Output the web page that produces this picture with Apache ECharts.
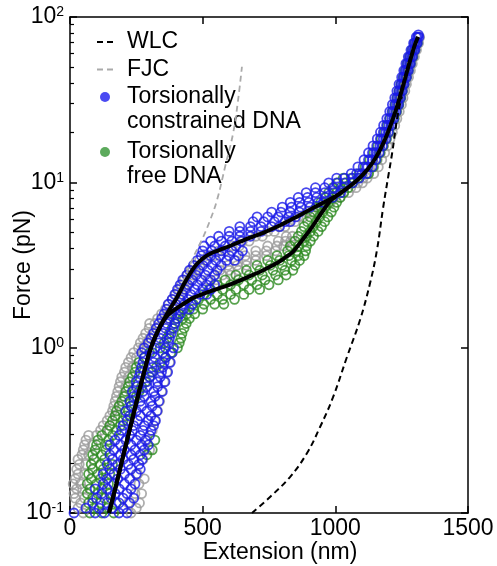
<!DOCTYPE html>
<html>
<head>
<meta charset="utf-8">
<script src="https://cdn.jsdelivr.net/npm/echarts@6/dist/echarts.min.js"></script>
<style>
html,body{margin:0;padding:0;background:#fff;}
#chart{width:497px;height:566px;}
</style>
</head>
<body>
<div id="chart"></div>
<script>
// ---------- data (extension nm, force pN) ----------
var xTicks = [0, 500, 1000, 1500];
var yTickExponents = [-1, 0, 1, 2];
var yMinorTicks = [0.2,0.3,0.4,0.5,0.6,0.7,0.8,0.9,2,3,4,5,6,7,8,9,20,30,40,50,60,70,80,90];
var legendLabels = ['WLC', 'FJC', 'Torsionally\nconstrained DNA', 'Torsionally\nfree DNA'];

var fitConstrained = [[147,0.1],[175,0.15],[200,0.22],[225,0.32],[252,0.48],[280,0.72],[305,1.0],[330,1.25],[351,1.45],[375,1.7],[402,2.0],[428,2.4],[452,2.8],[472,3.12],[490,3.35],[510,3.55],[528,3.7],[560,3.88],[603,4.12],[641,4.38],[690,4.7],[728,4.95],[792,5.5],[855,6.2],[916,7.0],[960,7.6],[1000,8.2],[1040,9.1],[1082,10.3],[1120,11.9],[1150,13.9],[1175,16.5],[1195,19.5],[1214,23.5],[1232,28.5],[1248,35],[1262,42],[1275,50],[1288,59],[1300,68],[1312,76]];

var fitFree = [[147,0.1],[175,0.15],[200,0.22],[225,0.32],[252,0.48],[280,0.72],[305,1.0],[330,1.25],[351,1.45],[370,1.58],[388,1.67],[430,1.85],[464,2.0],[530,2.2],[600,2.4],[652,2.6],[720,2.9],[780,3.25],[810,3.5],[840,3.8],[867,4.3],[890,4.8],[910,5.3],[935,6.1],[958,6.9],[980,7.7],[1000,8.2]];

var wlcCurve = [[686,0.1],[754,0.125],[829,0.165],[893,0.23],[942,0.33],[991,0.5],[1044,0.88],[1093,1.47],[1131,2.46],[1157,3.9],[1180,7.0],[1200,11],[1214,15],[1236,26],[1251,33]];

var fjcCurve = [[360,1.5],[410,2.2],[464,3.5],[500,4.6],[528,5.9],[554,7.8],[585,12.5],[615,19.9],[633,31],[648,50]];

// scatter rows: [force, [extensions...]]
var grayRows = [
[0.100,[50,230]],[0.107,[30,250]],[0.115,[40,220,262]],[0.123,[20,55]],[0.131,[15,245,270]],
[0.140,[25,48]],[0.150,[12,40,260]],[0.161,[20,280]],[0.172,[30,55,255]],[0.184,[25]],
[0.197,[35,60]],[0.211,[30,275]],[0.225,[45,70]],[0.241,[50,300]],[0.258,[55,85]],
[0.276,[60,290]],[0.295,[70,100]],[0.316,[115,310]],[0.338,[125,150]],[0.362,[140,320]],
[0.387,[150,170]],[0.414,[160,330]],[0.443,[165,185]],[0.474,[170,338]],[0.507,[175,200]],
[0.543,[180,345]],[0.581,[185,210]],[0.622,[190,355]],[0.665,[195,220]],[0.712,[205,365]],
[0.761,[210,235]],[0.815,[220,375]],[0.872,[230,250]],[0.933,[240,385]],[0.998,[258,275]],
[1.07,[265,290]],[1.14,[275,300]],[1.22,[285,312]],[1.31,[298,325]],[1.40,[300,320]],
[1.50,[330,365]],[1.60,[345,375]],[1.71,[360,388]],[1.83,[372,398]],[1.96,[385,410]],
[2.10,[398,420]],[2.25,[410,430]],[2.40,[420,440]],[2.57,[430,452,520,550]],[2.75,[442,462,545,575,605]],
[2.94,[455,475,565,600,635]],[3.15,[468,490,595,630,665]],[3.37,[488,510,625,665,700]],[3.60,[520,545,660,700,740]],
[3.85,[560,585,700,740,775]],[4.12,[612,638,745,780,805]],[4.41,[650,675,785,812,832]],[4.72,[700,725,815,838]],
[5.05,[745,770]],[5.40,[788,810]],[5.78,[825,848]],[6.18,[860,880]],[6.61,[893,912]],
[7.08,[928,948]],[7.57,[963,982]],[8.10,[1000,1018]],[8.67,[1030,1050]],[9.28,[1058,1078]],
[9.93,[1085,1102]],[10.6,[1105,1120]],[11.3,[1125,1145]],[12.4,[1145,1162]],[13.7,[1158,1175]],
[15.1,[1170,1186]],[16.6,[1182,1196]],[18.3,[1193,1206]],[20.1,[1203,1215]],[22.1,[1213,1224]],
[24.3,[1222,1232]],[26.8,[1232,1241]],[29.5,[1240,1249]],[32.4,[1247,1255]],[35.7,[1254,1262]],
[39.2,[1261,1268]],[43.2,[1269,1276]],[47.5,[1276,1283]],[52.2,[1283,1290]],[57.5,[1292,1298]],
[63.2,[1300,1306]],[69.5,[1308,1314]],[75.5,[1318]]
];

var greenRows = [
[0.100,[75,120,165]],[0.107,[90,140]],[0.115,[70,115,175]],[0.123,[85,130]],[0.131,[65,105,150]],
[0.140,[75,120]],[0.150,[65,100,145]],[0.161,[80,115]],[0.172,[70,105,150]],[0.184,[85,125]],
[0.197,[80,115,160]],[0.211,[90,130]],[0.225,[85,120,290]],[0.241,[95,135,310]],[0.258,[100,140]],
[0.276,[105,145,320]],[0.295,[120,160]],[0.316,[140,175]],[0.338,[150,190]],[0.362,[160,200]],
[0.387,[170,210]],[0.414,[175,220]],[0.443,[185,230]],[0.474,[195,240]],[0.507,[205,250]],
[0.543,[210,260]],[0.581,[220,270]],[0.622,[225,285]],[0.665,[235,300]],[0.712,[245,310]],
[0.761,[250,325]],[0.815,[260,340]],[0.872,[280,360]],[0.933,[300,380]],[0.998,[340,405]],
[1.07,[355,412]],[1.14,[365,418]],[1.22,[375,422]],[1.31,[385,430]],[1.40,[395,438]],
[1.50,[400,425,450]],[1.60,[410,440,470]],[1.71,[430,465,500]],[1.83,[465,505,545,580]],
[1.96,[485,530,575,620]],[2.10,[505,555,605,655]],[2.25,[525,575,625,675,715]],
[2.40,[555,605,655,705,750]],[2.57,[585,635,685,735,785]],[2.75,[625,675,725,775,815]],
[2.94,[665,715,765,810,840]],[3.15,[705,755,800,848]],[3.37,[745,790,835,865]],
[3.60,[780,825,860,882]],[3.85,[820,855,888]],[4.12,[830,862,892]],[4.41,[848,882,906]],
[4.72,[860,892,918]],[5.05,[872,906,935]],[5.40,[882,916,948]],[5.78,[895,928,960]],
[6.18,[905,940,972]],[6.61,[918,952,985]],[7.08,[930,962,995]],[7.57,[945,975,1005]],
[8.10,[960,990,1018]],[8.67,[975,1005,1032]],[9.28,[990,1020,1048]],[9.93,[1010,1040,1065]],
[10.6,[1030,1060,1085]],[11.3,[1090,1125]],[12.4,[1112,1142]],[13.7,[1130,1155]],
[15.1,[1145,1168]],[16.6,[1160,1180]],[18.3,[1173,1192]],[20.1,[1185,1202]],[22.1,[1196,1212]],
[24.3,[1206,1222]],[26.8,[1216,1230]],[29.5,[1226,1239]],[32.4,[1233,1246]],[35.7,[1240,1252]],
[39.2,[1247,1259]],[43.2,[1256,1268]],[47.5,[1263,1275]],[52.2,[1271,1283]],[57.5,[1280,1292]],
[63.2,[1289,1300]],[69.5,[1299,1309]]
];

var blueRows = [
[0.100,[15,95,130,185,215]],[0.107,[60,110,160,200]],[0.115,[85,140,185,225]],[0.123,[100,155,200,240]],
[0.131,[120,170,215]],[0.140,[95,140,185,230]],[0.150,[125,165,205,245]],[0.161,[140,180,225]],
[0.172,[125,165,205,250]],[0.184,[150,190,230,265]],[0.197,[140,180,220,260]],[0.211,[160,200,240,272]],
[0.225,[150,190,230,265]],[0.241,[165,205,245,280]],[0.258,[150,190,230,270,295]],[0.276,[170,210,250,285]],
[0.295,[185,225,265,300]],[0.316,[195,235,275,305]],[0.338,[200,240,280,315]],[0.362,[215,255,295,322]],
[0.387,[225,265,305]],[0.414,[210,250,290,328]],[0.443,[230,270,310]],[0.474,[225,265,305,335]],
[0.507,[240,280,320]],[0.543,[235,275,315,348]],[0.581,[250,290,330]],[0.622,[250,290,330,358]],
[0.665,[260,300,340]],[0.712,[265,305,345,368]],[0.761,[270,310,350]],[0.815,[275,315,355,378]],
[0.872,[280,320,360]],[0.933,[270,310,350,385]],[0.998,[280,320,360,390]],[1.07,[295,335,372]],
[1.14,[305,340,375]],[1.22,[315,350,382]],[1.31,[325,360,390]],[1.40,[335,365,395]],
[1.50,[345,375,405]],[1.60,[355,385,415]],[1.71,[365,395,425,450]],[1.83,[370,400,430,460]],
[1.96,[385,415,445,475]],[2.10,[395,425,455,490,515]],[2.25,[405,435,470,500,530]],
[2.40,[415,445,480,515,545]],[2.57,[425,460,495,530]],[2.75,[440,475,510,545]],
[2.94,[450,485,520,555]],[3.15,[465,500,535,570]],[3.37,[480,515,550,590,620]],
[3.60,[495,530,565,600,635]],[3.85,[500,535,570,610,650]],[4.12,[505,545,585,625]],
[4.41,[530,570,610,645]],[4.72,[560,600,640,680]],[5.05,[600,640,680,720]],
[5.40,[640,680,720,760,790]],[5.78,[690,730,770,810,830]],[6.18,[705,745,785,825,850]],
[6.61,[760,795,830,865]],[7.08,[800,835,870,905]],[7.57,[830,865,900,935,955]],
[8.10,[860,895,930,965,990]],[8.67,[890,925,960,995,1020]],[9.28,[925,960,995,1030]],
[9.93,[975,1005,1035,1065]],[10.6,[1005,1035,1065,1090]],[11.3,[1060,1080,1100,1118]],
[12.4,[1085,1105,1122,1138]],[13.7,[1108,1125,1140,1152]],[15.1,[1125,1140,1153,1165]],
[16.6,[1142,1156,1168,1178]],[18.3,[1158,1170,1181,1190]],[20.1,[1170,1181,1191,1200]],
[22.1,[1182,1193,1202,1210]],[24.3,[1194,1204,1213,1220]],[26.8,[1205,1214,1222,1229]],
[29.5,[1215,1224,1232,1238]],[32.4,[1224,1232,1239,1245]],[35.7,[1232,1240,1246,1252]],
[39.2,[1240,1248,1254,1259]],[43.2,[1250,1257,1263,1268]],[47.5,[1258,1265,1270,1275]],
[52.2,[1266,1272,1278,1283]],[57.5,[1275,1281,1286,1291]],[63.2,[1285,1291,1296,1300]],
[69.5,[1295,1300,1305,1309]],[75.5,[1305,1310,1315]],[78,[1313]]
];

// ---------- build point lists from rows ----------
function expandRows(rows) {
  var out = [];
  rows.forEach(function (r) { r[1].forEach(function (x) { out.push([x, r[0]]); }); });
  return out;
}

var FONT = '"Liberation Sans", Arial, Helvetica, sans-serif';
var C_BLUE = '#1a1ae8';
var C_GREEN = '#2e8b22';
var C_GRAY = '#9a9a9a';

function scatterSeries(name, data, color) {
  return {
    name: name, type: 'scatter', data: data,
    symbol: 'circle', symbolSize: 9,
    itemStyle: { color: 'rgba(0,0,0,0)', borderColor: color, borderWidth: 1.8 },
    emphasis: { disabled: true }, silent: true, clip: true
  };
}

var chart = echarts.init(document.getElementById('chart'), null, { renderer: 'canvas' });
var majorVals = yTickExponents.map(function (e) { return Math.pow(10, e); });

var option = {
  animation: false,
  backgroundColor: '#ffffff',
  grid: { left: 70, right: 29, top: 17, bottom: 53, containLabel: false, outerBoundsMode: 'none' },
  xAxis: [
    {
      type: 'value', min: xTicks[0], max: xTicks[xTicks.length - 1], interval: 500,
      position: 'bottom',
      name: 'Extension (nm)', nameLocation: 'middle', nameGap: 28, nameMoveOverlap: false,
      nameTextStyle: { fontFamily: FONT, fontSize: 23, color: '#000', padding: [0, 0, 0, 22] },
      axisLine: { show: true, onZero: false, lineStyle: { color: '#000', width: 1.5 } },
      axisTick: { show: true, inside: true, length: 7, lineStyle: { color: '#000', width: 1.5 } },
      axisLabel: { fontFamily: FONT, fontSize: 23, color: '#000', margin: 4,
                   customValues: xTicks, formatter: function (v) { return String(v); } },
      splitLine: { show: false }
    },
    {
      type: 'value', min: xTicks[0], max: xTicks[xTicks.length - 1], interval: 500,
      position: 'top',
      axisLine: { show: true, onZero: false, lineStyle: { color: '#000', width: 1.5 } },
      axisTick: { show: true, inside: true, length: 7, lineStyle: { color: '#000', width: 1.5 } },
      axisLabel: { show: false },
      splitLine: { show: false }
    }
  ],
  yAxis: [
    {
      type: 'log', logBase: 10, min: 0.1, max: 100, position: 'left',
      name: 'Force (pN)', nameLocation: 'middle', nameGap: 35, nameMoveOverlap: false,
      nameTextStyle: { fontFamily: FONT, fontSize: 23, color: '#000' },
      axisLine: { show: true, onZero: false, lineStyle: { color: '#000', width: 1.5 } },
      axisTick: { show: true, inside: true, length: 7, lineStyle: { color: '#000', width: 1.5 }, customValues: majorVals },
      axisLabel: {
        margin: 6,
        customValues: majorVals,
        formatter: function (v) {
          var e = Math.round(Math.log10(v));
          return '{b|10}{s|' + e + '}';
        },
        rich: {
          b: { fontFamily: FONT, fontSize: 23, color: '#000' },
          s: { fontFamily: FONT, fontSize: 14, color: '#000', verticalAlign: 'top' }
        }
      },
      splitLine: { show: false }
    },
    {
      type: 'log', logBase: 10, min: 0.1, max: 100, position: 'left',
      axisLine: { show: false, onZero: false },
      axisTick: { show: true, inside: true, length: 4, lineStyle: { color: '#000', width: 1.2 }, customValues: yMinorTicks },
      axisLabel: { show: false },
      splitLine: { show: false }
    },
    {
      type: 'log', logBase: 10, min: 0.1, max: 100, position: 'right',
      axisLine: { show: true, onZero: false, lineStyle: { color: '#000', width: 1.5 } },
      axisTick: { show: true, inside: true, length: 7, lineStyle: { color: '#000', width: 1.5 }, customValues: majorVals },
      axisLabel: { show: false },
      splitLine: { show: false }
    }
  ],
  series: [
    scatterSeries('gray data', expandRows(grayRows), C_GRAY),
    scatterSeries(legendLabels[3], expandRows(greenRows), C_GREEN),
    {
      name: legendLabels[0], type: 'line', data: wlcCurve, smooth: 0.4, showSymbol: false, symbol: 'none',
      lineStyle: { color: '#000', width: 2, type: [6, 4] }, silent: true
    },
    {
      name: legendLabels[1], type: 'line', data: fjcCurve, smooth: 0.4, showSymbol: false, symbol: 'none',
      lineStyle: { color: '#aaaaaa', width: 1.8, type: [6, 4] }, silent: true
    },
    scatterSeries(legendLabels[2], expandRows(blueRows), C_BLUE),
    {
      name: 'fit constrained', type: 'line', data: fitConstrained, smooth: 0.35, showSymbol: false, symbol: 'none',
      lineStyle: { color: '#000', width: 4 }, silent: true
    },
    {
      name: 'fit free', type: 'line', data: fitFree, smooth: 0.35, showSymbol: false, symbol: 'none',
      lineStyle: { color: '#000', width: 4 }, silent: true
    }
  ],
  graphic: [
    { type: 'line', shape: { x1: 97, y1: 42, x2: 116, y2: 42 }, style: { stroke: '#000', lineWidth: 2, lineDash: [6, 4] } },
    { type: 'text', x: 127, y: 42, style: { text: legendLabels[0], font: '23px ' + FONT, fill: '#000', verticalAlign: 'middle' } },
    { type: 'line', shape: { x1: 97, y1: 69.5, x2: 116, y2: 69.5 }, style: { stroke: '#aaaaaa', lineWidth: 1.8, lineDash: [6, 4] } },
    { type: 'text', x: 127, y: 69.5, style: { text: legendLabels[1], font: '23px ' + FONT, fill: '#000', verticalAlign: 'middle' } },
    { type: 'circle', shape: { cx: 105, cy: 97, r: 5 }, style: { fill: '#4a4af2' } },
    { type: 'text', x: 127, y: 84.5, style: { text: legendLabels[2], font: '23px ' + FONT, fill: '#000', verticalAlign: 'top', lineHeight: 25 } },
    { type: 'circle', shape: { cx: 105, cy: 152, r: 5 }, style: { fill: '#5caa5c' } },
    { type: 'text', x: 127, y: 139.5, style: { text: legendLabels[3], font: '23px ' + FONT, fill: '#000', verticalAlign: 'top', lineHeight: 25 } }
  ]
};
chart.setOption(option);
</script>
</body>
</html>
